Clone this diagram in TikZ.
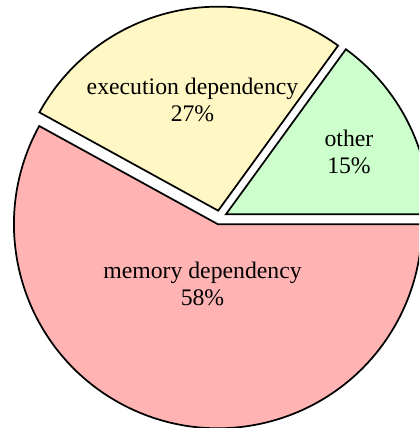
\documentclass[tikz,border=0pt]{standalone}
\usepackage{fontspec}
\setmainfont{Liberation Serif}
\newfontfamily\labelfont{Liberation Serif}
\usetikzlibrary{math,calc}

\definecolor{memcol}{RGB}{255,179,179}
\definecolor{execcol}{RGB}{255,248,196}
\definecolor{othercol}{RGB}{204,255,204}

\begin{document}
\begin{tikzpicture}[x=0.75pt,y=0.75pt]

\tikzmath{
	\R = 204;
	\E = 7;
}

\tikzset{slice/.style={
    draw=black,
    line width=1.3pt,
    line join=miter
  },
  slice label/.style={
    align=center,
    inner sep=0pt,
    font=\labelfont\fontsize{17.8}{20.5}\selectfont
  }
}

\useasboundingbox (0,0) rectangle (419,428);
\clip (0,0) rectangle (419,428);

\coordinate (c) at (219.7,210.5);

% each slice is pushed out along its middle angle
\foreach \a/\b/\col in {151.2/360/memcol, 0/54/othercol, 54/151.2/execcol} {
  \pgfmathsetmacro{\m}{(\a+\b)/2}
  \filldraw[slice,fill=\col] ($(c)+(\m:\E)$) -- ++(\a:\R)
    arc[start angle=\a,end angle=\b,radius=\R] -- cycle;
}

\node[slice label] (mem) at (202.5,144) {memory dependency\\58\%};
\node[slice label] (exec) at (192.5,328) {execution dependency\\27\%};
\node[slice label] (other) at (349,276) {other\\15\%};

\end{tikzpicture}
\end{document}
